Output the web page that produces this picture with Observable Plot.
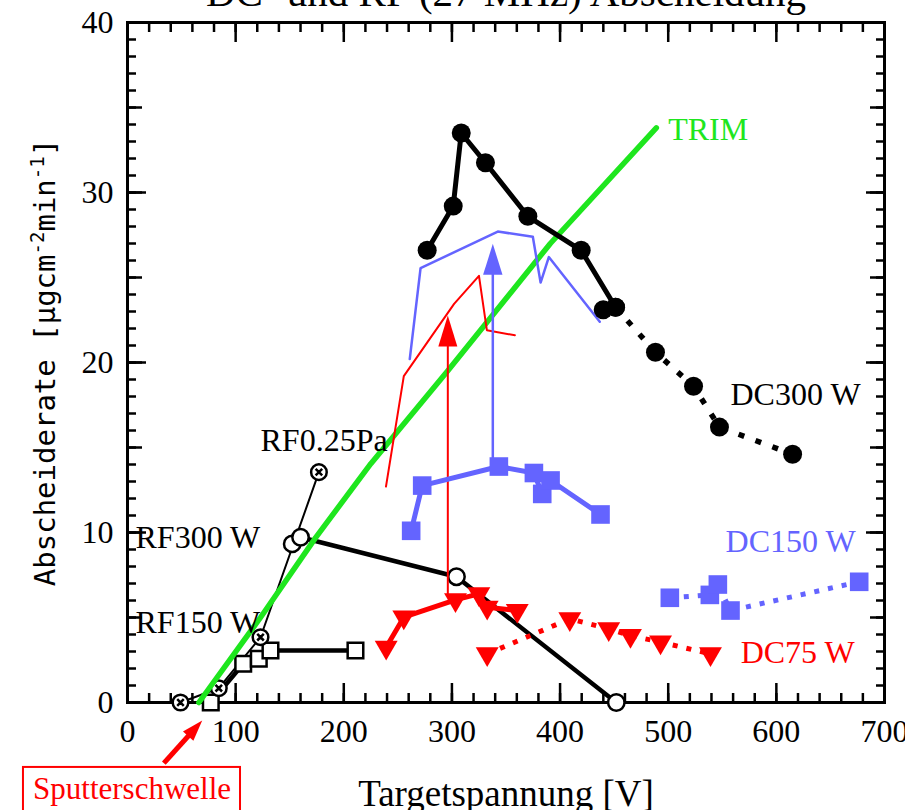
<!DOCTYPE html>
<html><head><meta charset="utf-8">
<script src="https://cdn.jsdelivr.net/npm/d3@7"></script>
<script src="https://cdn.jsdelivr.net/npm/@observablehq/plot@0.6"></script>
<style>body{margin:0;background:#fff}</style>
</head><body><div id="chart"></div>
<script>
// ---------- data ----------
const dc300SolidX = [277.1, 301.2, 308.6, 331, 370.2, 419.5, 451.3];
const dc300SolidY = [26.6, 29.2, 33.5, 31.75, 28.6, 26.6, 23.25];
const dc300LoneX = [439.9];
const dc300LoneY = [23.1];
const dc300DotX = [451.3, 488.2, 523.4, 547.4, 615];
const dc300DotY = [23.25, 20.6, 18.6, 16.2, 14.6];

const dc150SolidX = [262.3, 272.5, 343.4, 375.8, 383.5, 391.2, 437.4];
const dc150SolidY = [10.1, 12.76, 13.88, 13.5, 12.27, 13.06, 11.06];
const dc150DotX = [501.5, 538.5, 545.9, 557.6, 676.6];
const dc150DotY = [6.16, 6.33, 6.94, 5.41, 7.1];

const dc75SolidX = [239.2, 255.5, 303.3, 324.9, 332.6, 360.4];
const dc75SolidY = [3.25, 5.02, 6.04, 6.39, 5.6, 5.41];
const dc75DotX = [332.6, 409, 445, 465.1, 492.9, 539.1];
const dc75DotY = [2.86, 4.92, 4.33, 3.94, 3.55, 2.86];

const rf300X = [152.3, 160, 304.2, 452];
const rf300Y = [9.33, 9.72, 7.4, 0];
const rf150X = [77, 107, 121.4, 132.2, 210.8];
const rf150Y = [0, 2.28, 2.57, 3.06, 3.06];
const rf025X = [49, 84.4, 123, 177];
const rf025Y = [0, 0.84, 3.84, 13.55];

const trimX = [66, 123, 174, 225, 296, 391, 489];
const trimY = [0, 5.0, 9.7, 14.05, 19.5, 27.0, 33.8];

const redThinX = [239, 255.5, 302, 325, 332.3, 358.2];
const redThinY = [12.7, 19.2, 23.45, 25.1, 21.9, 21.6];
const blueThinX = [261, 271, 342.4, 374.8, 382, 389.6, 436.7];
const blueThinY = [20.2, 25.55, 27.7, 27.4, 24.7, 26.2, 22.4];

// arrows: x, from, to (tip)
const redArrow = {x: 296.2, from: 6.3, to: 22.76};
const blueArrow = {x: 337.8, from: 13.9, to: 26.98};

const xMinor = d3.range(0, 701, 20);
const xMajor = d3.range(0, 701, 100);
const yMinor = d3.range(0, 41, 1);
const yMid = d3.range(0, 41, 5);
const yMajor = d3.range(0, 41, 10);

const titleText = "DC- und RF (27 MHz) Abscheidung";
const xLabel = "Targetspannung [V]";
const yLabelParts = [["Abscheiderate [µgcm", false], ["-2", true], ["min", false], ["-1", true], ["]", false]];
const yLabel = yLabelParts.map(d => d[0]).join("");

const BLUE = "#6464ff", RED = "#ff0000", GREEN = "#1ee61e";

const seriesLabels = [
  {text: "RF0.25Pa", x: 123, y: 14.8, c: "black"},
  {text: "RF300 W", x: 7.4, y: 9.06, c: "black"},
  {text: "RF150 W", x: 7.4, y: 4.06, c: "black"},
  {text: "TRIM", x: 500, y: 33.1, c: GREEN},
  {text: "DC300 W", x: 557.6, y: 17.5, c: "black"},
  {text: "DC150 W", x: 553, y: 8.85, c: BLUE},
  {text: "DC75 W", x: 567, y: 2.35, c: RED}
];
const sputter = {text: "Sputterschwelle", tx: 4.2, ty: -5.7, bx1: -96.2, bx2: 104.5, by1: -3.82, by2: -7.6,
  tailX: 33.6, tailY: -3.57, tipX: 69.1, tipY: -1.06};

// ---------- helpers ----------
const zip = (xs, ys) => xs.map((x, i) => ({x, y: ys[i]}));
const triDown = {draw(c, size) {
  const r = Math.sqrt(size / Math.PI), s = 2.6 * r, h = s * Math.sqrt(3) / 2;
  c.moveTo(0, 2 * h / 3); c.lineTo(s / 2, -h / 3); c.lineTo(-s / 2, -h / 3); c.closePath();
}};
const crossed = {draw(c, size) {
  const r = Math.sqrt(size / Math.PI), d = 0.42 * r;
  c.moveTo(r, 0); c.arc(0, 0, r, 0, 2 * Math.PI);
  c.moveTo(-d, -d); c.lineTo(d, d); c.moveTo(d, -d); c.lineTo(-d, d);
}};
function head(angleDeg, wr, hr) {
  const a = angleDeg * Math.PI / 180, ca = Math.cos(a), sa = Math.sin(a);
  return {draw(c, size) {
    const r = Math.sqrt(size / Math.PI);
    const pts = [[0, 0], [wr * r, hr * r], [-wr * r, hr * r]].map(([x, y]) => [x * ca - y * sa, x * sa + y * ca]);
    c.moveTo(...pts[0]); c.lineTo(...pts[1]); c.lineTo(...pts[2]); c.closePath();
  }};
}

const tickStyle = {stroke: "black", strokeWidth: 2.5, tickFormat: () => "", label: null};
const axes = [];
for (const anchor of ["bottom", "top"]) {
  axes.push(Plot.axisX({...tickStyle, anchor, ticks: xMinor, tickSize: -9}));
  axes.push(Plot.axisX({...tickStyle, anchor, ticks: xMajor, tickSize: -19}));
}
for (const anchor of ["left", "right"]) {
  axes.push(Plot.axisY({...tickStyle, anchor, ticks: yMinor, tickSize: -9}));
  axes.push(Plot.axisY({...tickStyle, anchor, ticks: yMid, tickSize: -15}));
  axes.push(Plot.axisY({...tickStyle, anchor, ticks: yMajor, tickSize: -19}));
}
axes.push(Plot.axisX({anchor: "bottom", ticks: xMajor, tickSize: 0, tickPadding: 17, label: null, fontSize: 32, tickFormat: d3.format("d")}));
axes.push(Plot.axisY({anchor: "left", ticks: yMajor, tickSize: 0, tickPadding: 14, label: null, fontSize: 32, tickFormat: d3.format("d")}));

const thick = 5;
const chart = Plot.plot({
  width: 905, height: 810,
  marginTop: 22, marginRight: 21, marginBottom: 108, marginLeft: 127,
  x: {domain: [0, 700]},
  y: {domain: [0, 40]},
  color: {type: "identity"},
  style: {fontFamily: "Liberation Serif", fontSize: "32px", background: "white", overflow: "visible"},
  marks: [
    Plot.frame({stroke: "black", strokeWidth: 3}),
    ...axes,
    // RF series
    Plot.line(zip(rf025X, rf025Y), {x: "x", y: "y", stroke: "black", strokeWidth: 2}),
    Plot.line(zip(rf150X, rf150Y), {x: "x", y: "y", stroke: "black", strokeWidth: 4.5}),
    Plot.line(zip(rf300X, rf300Y), {x: "x", y: "y", stroke: "black", strokeWidth: 4.5}),
    Plot.dot(zip(rf150X, rf150Y), {x: "x", y: "y", symbol: "square", r: 8.8, fill: "white", stroke: "black", strokeWidth: 2.5}),
    Plot.dot(zip(rf300X, rf300Y), {x: "x", y: "y", r: 8.2, fill: "white", stroke: "black", strokeWidth: 2.5}),
    Plot.dot(zip(rf025X, rf025Y), {x: "x", y: "y", symbol: crossed, r: 7.8, fill: "white", stroke: "black", strokeWidth: 2.5}),
    // TRIM
    Plot.line(zip(trimX, trimY), {x: "x", y: "y", stroke: GREEN, strokeWidth: 5.5}),
    // thin guide lines
    Plot.line(zip(redThinX, redThinY), {x: "x", y: "y", stroke: RED, strokeWidth: 2}),
    Plot.line(zip(blueThinX, blueThinY), {x: "x", y: "y", stroke: BLUE, strokeWidth: 2.5}),
    // arrows
    Plot.ruleX([redArrow], {x: "x", y1: "from", y2: d => d.to - 0.5, stroke: RED, strokeWidth: 2}),
    Plot.dot([redArrow], {x: "x", y: "to", symbol: head(0, 0.95, 3.1), r: 10, fill: RED, stroke: "none"}),
    Plot.ruleX([blueArrow], {x: "x", y1: "from", y2: d => d.to - 0.5, stroke: BLUE, strokeWidth: 2.5}),
    Plot.dot([blueArrow], {x: "x", y: "to", symbol: head(0, 0.97, 3.1), r: 10, fill: BLUE, stroke: "none"}),
    // DC300
    Plot.line(zip(dc300SolidX, dc300SolidY), {x: "x", y: "y", stroke: "black", strokeWidth: thick, strokeLinejoin: "round"}),
    Plot.line(zip(dc300DotX, dc300DotY), {x: "x", y: "y", stroke: "black", strokeWidth: 5.5, strokeDasharray: "6,12", strokeLinecap: "butt"}),
    Plot.dot(zip([...dc300SolidX, ...dc300LoneX, ...dc300DotX], [...dc300SolidY, ...dc300LoneY, ...dc300DotY]), {x: "x", y: "y", r: 9.5, fill: "black"}),
    // DC150
    Plot.line(zip(dc150SolidX, dc150SolidY), {x: "x", y: "y", stroke: BLUE, strokeWidth: thick, strokeLinejoin: "round"}),
    Plot.line(zip(dc150DotX, dc150DotY), {x: "x", y: "y", stroke: BLUE, strokeWidth: 5, strokeDasharray: "5,9", strokeLinecap: "butt"}),
    Plot.dot(zip([...dc150SolidX, ...dc150DotX], [...dc150SolidY, ...dc150DotY]), {x: "x", y: "y", symbol: "square", r: 10.5, fill: BLUE}),
    // DC75
    Plot.line(zip(dc75SolidX, dc75SolidY), {x: "x", y: "y", stroke: RED, strokeWidth: thick, strokeLinejoin: "round"}),
    Plot.line(zip(dc75DotX, dc75DotY), {x: "x", y: "y", stroke: RED, strokeWidth: 5, strokeDasharray: "5,9", strokeLinecap: "butt"}),
    Plot.dot(zip([...dc75SolidX, ...dc75DotX], [...dc75SolidY, ...dc75DotY]), {x: "x", y: "y", symbol: triDown, r: 8.8, fill: RED}),
    // labels
    Plot.text(seriesLabels, {x: "x", y: "y", text: "text", fill: "c", textAnchor: "start", lineAnchor: "bottom", fontSize: 32}),
    Plot.text([titleText], {frameAnchor: "top", dy: -17, lineAnchor: "bottom", fontSize: 41}),
    Plot.text([xLabel], {frameAnchor: "bottom", dy: 103, lineAnchor: "bottom", fontSize: 37}),
    Plot.text([yLabel], {x: -75.8, y: 20, rotate: -90, textAnchor: "middle", lineAnchor: "middle", fontFamily: "DejaVu Sans Mono", fontSize: 29, className: "ylab"}),
    // Sputterschwelle annotation
    Plot.rect([sputter], {x1: "bx1", x2: "bx2", y1: "by1", y2: "by2", fill: "white", stroke: RED, strokeWidth: 2}),
    Plot.text([sputter], {x: "tx", y: "ty", text: "text", fill: RED, lineAnchor: "bottom", fontSize: 31}),
    Plot.link([sputter], {x1: "tailX", y1: "tailY", x2: d => d.tipX - 7, y2: d => d.tipY - 0.5, stroke: RED, strokeWidth: 5}),
    Plot.dot([sputter], {x: "tipX", y: "tipY", symbol: head(42, 1.0, 3.0), r: 7, fill: RED, stroke: "none"})
  ]
});
// superscripts in the y label
const yl = chart.querySelector("g.ylab text");
if (yl) {
  yl.textContent = "";
  let up = false;
  for (const [s, sup] of yLabelParts) {
    const t = document.createElementNS("http://www.w3.org/2000/svg", "tspan");
    t.textContent = s;
    if (sup && !up) { t.setAttribute("dy", "-11"); t.setAttribute("font-size", "19"); up = true; }
    else if (sup) { t.setAttribute("font-size", "19"); }
    else if (up) { t.setAttribute("dy", "11"); up = false; }
    yl.appendChild(t);
  }
}
document.getElementById("chart").appendChild(chart);
</script>
</body></html>
